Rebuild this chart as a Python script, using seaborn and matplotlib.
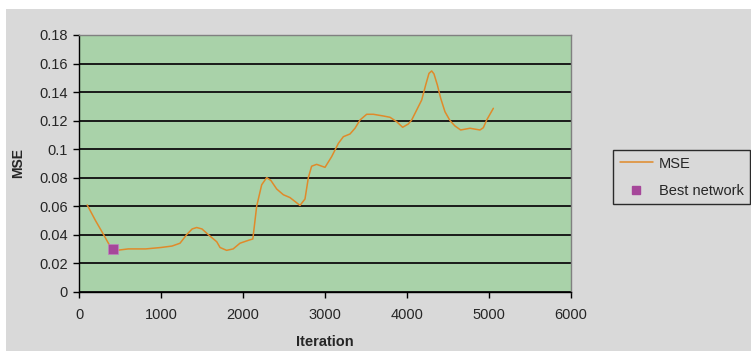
import matplotlib
matplotlib.use('Agg')
import matplotlib.pyplot as plt
import matplotlib.patches as mpatches
from matplotlib.ticker import FuncFormatter
from matplotlib.lines import Line2D
import seaborn as sns
import pandas as pd

# valores
iteracion = [100, 200, 300, 378, 460, 600, 813, 1000, 1134, 1232, 1313, 1380, 1435, 1500,
             1577, 1680, 1720, 1800, 1880, 1963, 2065, 2120, 2167, 2228, 2289, 2340,
             2411, 2492, 2573, 2640, 2695, 2756, 2797, 2837, 2898, 3000, 3081, 3163,
             3224, 3305, 3366, 3427, 3508, 3590, 3712, 3793, 3874, 3947, 4016, 4057,
             4118, 4179, 4228, 4268, 4301, 4329, 4370, 4411, 4463, 4524, 4585, 4654,
             4768, 4890, 4931, 4972, 5053]
mse = [0.0608, 0.050, 0.040, 0.032, 0.029, 0.030, 0.030, 0.031, 0.032, 0.034, 0.040,
       0.044, 0.045, 0.044, 0.040, 0.035, 0.031, 0.029, 0.030, 0.034, 0.036, 0.037,
       0.060, 0.075, 0.080, 0.078, 0.072, 0.068, 0.066, 0.063, 0.0605, 0.065, 0.080,
       0.088, 0.0893, 0.0872, 0.0947, 0.104, 0.1087, 0.1106, 0.1146, 0.1204, 0.1244,
       0.1244, 0.1232, 0.1223, 0.1192, 0.1153, 0.1176, 0.1204, 0.1274, 0.1344, 0.145,
       0.1531, 0.1548, 0.1527, 0.145, 0.1356, 0.1262, 0.120, 0.1162, 0.1134, 0.1146,
       0.1134, 0.115, 0.1204, 0.1286]
mejor_iter = [418]
mejor_mse = [0.030]

df = pd.DataFrame({'Iteration': iteracion, 'MSE': mse})
df_best = pd.DataFrame({'Iteration': mejor_iter, 'MSE': mejor_mse})

sns.set_style('white')
plt.rcParams['font.family'] = ['Liberation Sans', 'DejaVu Sans']

gris = '#D9D9D9'
verde = '#A9D2A9'
naranja = '#E08A2A'
morado = '#A6479A'

fig = plt.figure(figsize=(7.51, 3.51), dpi=100, facecolor='white')
# fondo gris con borde blanco arriba e izquierda
fig.patches.append(mpatches.Rectangle((6 / 751, 0), 1, 1 - 9 / 351, transform=fig.transFigure,
                                      facecolor=gris, edgecolor='none', zorder=-10))
ax = fig.add_axes([79 / 751, 1 - 291.7 / 351, (571 - 79) / 751, (291.7 - 35) / 351])
ax.set_facecolor(verde)

sns.lineplot(data=df, x='Iteration', y='MSE', color=naranja, linewidth=1.1, ax=ax, zorder=3)
sns.scatterplot(data=df_best, x='Iteration', y='MSE', color=morado, marker='s', s=50,
                edgecolor='#C080C0', linewidth=0.5, ax=ax, zorder=4)

ax.set_xlim(0, 6000)
ax.set_ylim(0, 0.18)
ax.set_xticks(range(0, 6001, 1000))
ax.set_yticks([i * 0.02 for i in range(10)])
ax.yaxis.set_major_formatter(FuncFormatter(lambda v, p: '%g' % round(v, 2)))
ax.grid(axis='y', color='#1a1a1a', linewidth=1.4)
ax.set_axisbelow(True)
ax.tick_params(axis='both', direction='out', length=4, width=1, color='black',
               labelsize=10.5, bottom=True, left=True)
ax.tick_params(axis='x', pad=8)
ax.tick_params(axis='y', pad=4)
for s in ['left', 'bottom']:
    ax.spines[s].set_color('black')
    ax.spines[s].set_linewidth(1)
for s in ['top', 'right']:
    ax.spines[s].set_color('#808080')
    ax.spines[s].set_linewidth(1)

ax.set_xlabel('Iteration', fontsize=10.5, fontweight='bold', labelpad=9)
ax.set_ylabel('MSE', fontsize=10, fontweight='bold', labelpad=10)

handles = [Line2D([0], [0], color=naranja, linewidth=1.1),
           Line2D([0], [0], color=morado, marker='s', linestyle='none', markersize=6)]
leg = fig.legend(handles, ['MSE', 'Best network'], loc='upper left',
                 bbox_to_anchor=(613 / 751, 1 - 150 / 351), fontsize=10.5, frameon=True,
                 fancybox=False, handlelength=2.3, handletextpad=0.4, borderpad=0.45,
                 labelspacing=0.9, borderaxespad=0)
leg.get_frame().set_facecolor(gris)
leg.get_frame().set_edgecolor('black')
leg.get_frame().set_linewidth(1)

fig.savefig('out.png', dpi=100, facecolor=fig.get_facecolor())
